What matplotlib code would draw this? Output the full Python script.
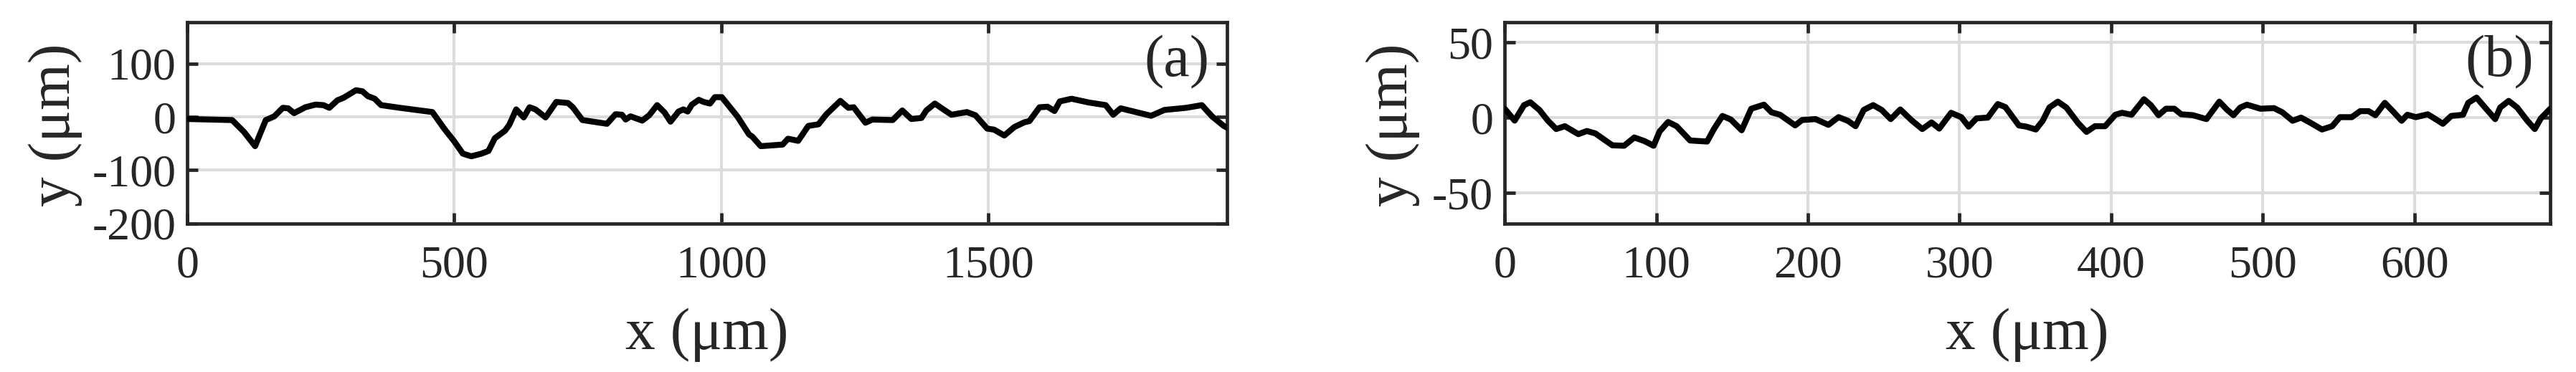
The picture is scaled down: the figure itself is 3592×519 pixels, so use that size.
import matplotlib
matplotlib.use("Agg")
import matplotlib.pyplot as plt

# panel (a) profile, x and y in um
xa = [0, 84, 106, 127, 147, 163, 179, 189, 200, 221, 240, 255, 266, 281, 293, 316,
      328, 338, 351, 363, 398, 459, 481, 500, 516, 532, 551, 564, 576, 595, 603, 616,
      630, 641, 652, 671, 691, 713, 722, 740, 786, 802, 814, 821, 830, 852, 865, 880,
      894, 905, 920, 929, 937, 945, 958, 967, 979, 988, 1001, 1030, 1052, 1058, 1074,
      1115, 1125, 1144, 1163, 1182, 1197, 1223, 1238, 1248, 1270, 1283, 1321, 1339,
      1356, 1375, 1384, 1400, 1416, 1431, 1460, 1476, 1498, 1511, 1530, 1549, 1568,
      1577, 1596, 1611, 1624, 1634, 1656, 1688, 1720, 1734, 1748, 1805, 1830, 1871,
      1900, 1919, 1941, 1947]
ya = [-4, -6, -28, -55, -6, 1, 17, 16, 7, 18, 23, 22, 17, 31, 36, 50,
      48, 39, 34, 22, 17, 9, -22, -46, -69, -74, -69, -64, -40, -26, -15, 14,
      -1, 18, 14, -1, 28, 26, 18, -6, -13, 5, 4, -5, 1, -7, 3, 22,
      8, -9, 10, 14, 10, 23, 32, 28, 25, 37, 37, 1, -33, -37, -55,
      -52, -41, -45, -17, -14, 5, 30, 17, 18, -11, -5, -6, 12,
      -4, -2, 12, 25, 14, 4, 9, 3, -22, -24, -35, -19, -10,
      -8, 18, 19, 11, 29, 34, 27, 22, 4, 16, 2, 13, 17,
      22, 1, -17, -20]

# panel (b) profile
xb = [0, 6.6, 12.8, 16.9, 22.9, 28.5, 34, 39.7, 48.6, 54.2, 59.8, 71, 78.8, 85.5,
      92.2, 98.2, 102.2, 107.8, 113.4, 122.3, 133.5, 138, 143.6, 149.2, 156.3,
      162.6, 171, 176, 181.6, 191.6, 196.1, 205, 213.5, 220.2, 226.3, 231.4, 236.8,
      243, 248.6, 254.6, 260.9, 268.7, 275.4, 281.5, 286.6, 294.4, 301.1, 306,
      311.2, 318.6, 325.2, 330.2, 339.1, 344, 350.3, 354.8, 359.2, 364.8, 370.4,
      378.2, 383.7, 389.3, 396, 402.7, 407.1, 413.4, 421.6, 426.1, 431.2, 436.1,
      441.6, 446.1, 453.9, 462.8, 467.3, 471.3, 476.2, 480.6, 485.1, 489.5, 498.4,
      507.3, 512.9, 519.6, 525.2, 531.8, 539, 545.7, 550.8, 558.6, 564.2, 569.7,
      574.2, 580.4, 586.4, 591.5, 595.3, 600.9, 608.7, 613.1, 618.7, 624.2, 632,
      635.4, 640.9, 646.5, 653.2, 656.5, 662.1, 667.7, 674.4, 679.3, 683.3, 689.5]
yb = [5.9, -2, 8.3, 10.2, 5.1, -2, -7.6, -5.7, -11, -8.9, -10.5, -18.4, -18.7, -13.2,
      -15.6, -18.7, -9.2, -2.9, -5.7, -15.2, -15.9, -7.6, 1.1, -1.3, -8.4,
      5.9, 8.6, 3.5, 1.9, -5.2, -1.6, -1, -4.8, 0.3, -2.1, -5.7, 5.1,
      8.3, 5.1, -1, 5.4, -2.1, -7.6, -3.2, -7.3, 3.2, 0.3, -6,
      -0.5, 0, 9, 7, -5.2, -6, -7.9, -2.1, 6.7, 10.6, 6.7,
      -3.7, -9.5, -5.7, -5.7, 1.9, 3.2, 1.9, 12.2, 8.3, 1.6, 5.9,
      5.9, 2.2, 1.6, -1, 5.1, 10.6, 5.4, 1.6, 6.7, 8.6, 5.9,
      6.3, 3.5, -2.1, 0, -3.7, -7.9, -5.7, 0.3, 0.3, 4.3, 4.3,
      1.6, 9.8, 3.5, -2.1, 1.9, 0.3, 2.2, -0.5, -4.1, 1.1, 1.9,
      9.8, 13.3, 6.7, -1, 6.7, 11.1, 6.7, -2.1, -7.6, -0.5, 5.9]

panels = ["(a)", "(b)"]
xticks_a = [0, 500, 1000, 1500]
yticks_a = [-200, -100, 0, 100]
xticks_b = [0, 100, 200, 300, 400, 500, 600]
yticks_b = [-50, 0, 50]

plt.rcParams['font.family'] = ['Liberation Serif', 'DejaVu Serif']
plt.rcParams['axes.unicode_minus'] = False
dark = '#262626'

fig = plt.figure(figsize=(35.92, 5.19), dpi=100)
ax1 = fig.add_axes([0.0727, 0.3994, 0.4036, 0.5414])
ax2 = fig.add_axes([0.5841, 0.3994, 0.4059, 0.5414])

setups = [
    (ax1, xa, ya, (0, 1947), (-200, 178), xticks_a, yticks_a, -0.127, 0.983),
    (ax2, xb, yb, (0, 689.5), (-70.3, 63.5), xticks_b, yticks_b, -0.107, 0.984),
]

for i, (ax, x, y, xl, yl, xt, yt, ylab_x, tag_x) in enumerate(setups):
    ax.plot(x, y, color='black', lw=6, solid_joinstyle='round',
            solid_capstyle='round', zorder=3)
    ax.set_xlim(*xl)
    ax.set_ylim(*yl)
    ax.set_xticks(xt)
    ax.set_yticks(yt)
    ax.set_axisbelow(True)
    ax.grid(True, color='#dcdcdc', lw=2.9)
    for s in ax.spines.values():
        s.set_linewidth(3.4)
        s.set_color(dark)
    ax.tick_params(direction='in', length=11, width=3.4, color=dark,
                   top=True, right=True, labelsize=46, labelcolor=dark)
    ax.tick_params(axis='x', pad=22)
    ax.tick_params(axis='y', pad=11.5)
    ax.set_xlabel('x (μm)', fontsize=60, color=dark, va='center')
    ax.xaxis.set_label_coords(0.5, -0.553)
    ax.set_ylabel('y (μm)', fontsize=60, color=dark, va='center')
    ax.yaxis.set_label_coords(ylab_x, 0.488)
    ax.text(tag_x, 0.80, panels[i], transform=ax.transAxes, ha='right',
            va='center', fontsize=59, color=dark)

fig.savefig('out.png', dpi=100)
